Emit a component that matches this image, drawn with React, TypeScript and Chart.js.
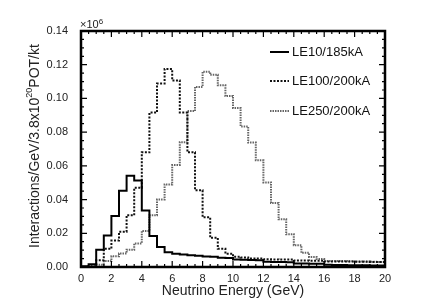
import React, { useEffect, useRef } from "react";
import { Chart, registerables } from "chart.js";
Chart.register(...registerables);

// Bin edges of the energy histogram (GeV)
const binEdges = [
  0, 0.5, 1, 1.5, 2, 2.5, 3, 3.5, 4, 4.5, 5, 5.5, 6, 6.5, 7, 7.5, 8, 8.5, 9, 9.5,
  10, 10.5, 11, 11.5, 12, 12.5, 13, 13.5, 14, 14.5, 15, 15.5, 16, 16.5, 17, 17.5,
  18, 18.5, 19, 19.5, 20,
];

// Interactions per bin (x10^6)
const le10 = [
  0.0004, 0.0016, 0.0102, 0.0187, 0.0303, 0.0452, 0.0542, 0.0513, 0.0335, 0.0184,
  0.0119, 0.0088, 0.0078, 0.0074, 0.0069, 0.0067, 0.0063, 0.0061, 0.0055, 0.0053,
  0.0044, 0.0043, 0.0041, 0.004, 0.0031, 0.003, 0.0029, 0.0028, 0.0021, 0.0021,
  0.002, 0.002, 0.0013, 0.0012, 0.0012, 0.0011, 0.001, 0.001, 0.0009, 0.0009,
];
const le100 = [
  0.0, 0.0005, 0.004, 0.0108, 0.0157, 0.0209, 0.0307, 0.047, 0.068, 0.0916,
  0.1088, 0.1175, 0.1107, 0.0916, 0.068, 0.0455, 0.0295, 0.0173, 0.0109, 0.0079,
  0.0061, 0.0057, 0.0051, 0.005, 0.0046, 0.0045, 0.0044, 0.0044, 0.0039, 0.0038,
  0.0037, 0.0037, 0.0033, 0.0033, 0.0032, 0.0032, 0.0031, 0.0031, 0.003, 0.003,
];
const le250 = [
  0.0, 0.0003, 0.0014, 0.0035, 0.0064, 0.008, 0.0102, 0.014, 0.0214, 0.0307,
  0.04, 0.049, 0.0605, 0.074, 0.0925, 0.1068, 0.1158, 0.114, 0.1078, 0.1014,
  0.0943, 0.0834, 0.0738, 0.0633, 0.0502, 0.038, 0.0283, 0.0194, 0.0129, 0.0084,
  0.006, 0.0047, 0.0036, 0.0036, 0.0035, 0.0034, 0.0033, 0.0032, 0.0031, 0.003,
];

const seriesLabels = ["LE10/185kA", "LE100/200kA", "LE250/200kA"];
const xTicks = [0, 2, 4, 6, 8, 10, 12, 14, 16, 18, 20];
const yTicks = [0, 0.02, 0.04, 0.06, 0.08, 0.1, 0.12, 0.14];

const FONT = "'Liberation Sans', Arial, Helvetica, sans-serif";

function toSteps(values: number[]) {
  return binEdges.map((x, i) => ({ x, y: values[Math.min(i, values.length - 1)] }));
}

const framePlugin = {
  id: "framePlugin",
  afterDraw(chart: any) {
    const { ctx, chartArea } = chart;
    const { left, right, top, bottom } = chartArea;
    const xs = chart.scales.x;
    const ys = chart.scales.y;
    ctx.save();
    // ticks on all sides, pointing inward
    ctx.strokeStyle = "#000";
    ctx.lineWidth = 1.2;
    ctx.beginPath();
    for (let i = 0; i <= 40; i++) {
      const v = i * 0.5;
      const px = xs.getPixelForValue(v);
      const len = i % 4 === 0 ? 6 : 3;
      ctx.moveTo(px, bottom);
      ctx.lineTo(px, bottom - len);
      ctx.moveTo(px, top);
      ctx.lineTo(px, top + len);
    }
    for (let i = 0; i <= 28; i++) {
      const v = i * 0.005;
      const py = ys.getPixelForValue(v);
      const len = i % 4 === 0 ? 6 : 3;
      ctx.moveTo(left, py);
      ctx.lineTo(left + len, py);
      ctx.moveTo(right, py);
      ctx.lineTo(right - len, py);
    }
    ctx.stroke();
    // frame
    ctx.lineWidth = 2.5;
    ctx.strokeRect(left, top, right - left, bottom - top);

    // x10^6 label
    ctx.fillStyle = "#222";
    ctx.textBaseline = "alphabetic";
    ctx.textAlign = "left";
    ctx.font = `11px ${FONT}`;
    ctx.fillText("×10", left - 1, top - 3);
    const w10 = ctx.measureText("×10").width;
    ctx.font = `8px ${FONT}`;
    ctx.fillText("6", left - 1 + w10, top - 7);

    // x title
    ctx.font = `14px ${FONT}`;
    ctx.textAlign = "center";
    ctx.textBaseline = "middle";
    ctx.fillText("Neutrino Energy (GeV)", (left + right) / 2, 291);

    // y title with superscript
    ctx.translate(35, (top + bottom) / 2 - 3);
    ctx.rotate(-Math.PI / 2);
    ctx.textAlign = "left";
    ctx.textBaseline = "middle";
    const p1 = "Interactions/GeV/3.8x10";
    const p2 = "20";
    const p3 = "POT/kt";
    ctx.font = `14px ${FONT}`;
    const w1 = ctx.measureText(p1).width;
    const w3 = ctx.measureText(p3).width;
    ctx.font = `9px ${FONT}`;
    const w2 = ctx.measureText(p2).width;
    const total = w1 + w2 + w3;
    let x0 = -total / 2;
    ctx.font = `14px ${FONT}`;
    ctx.fillText(p1, x0, 0);
    ctx.font = `9px ${FONT}`;
    ctx.fillText(p2, x0 + w1, -5);
    ctx.font = `14px ${FONT}`;
    ctx.fillText(p3, x0 + w1 + w2, 0);
    ctx.restore();

    // legend
    ctx.save();
    const rows = [52, 81, 111];
    chart.data.datasets.forEach((ds: any, i: number) => {
      const y = rows[i];
      ctx.strokeStyle = ds.borderColor;
      ctx.lineWidth = ds.borderWidth;
      ctx.setLineDash(ds.borderDash || []);
      ctx.beginPath();
      ctx.moveTo(270, y);
      ctx.lineTo(289, y);
      ctx.stroke();
      ctx.setLineDash([]);
      ctx.fillStyle = "#111";
      ctx.font = `13px ${FONT}`;
      ctx.textAlign = "left";
      ctx.textBaseline = "middle";
      ctx.fillText(ds.label, 292, y);
    });
    ctx.restore();
  },
};

export default function App() {
  const ref = useRef<HTMLCanvasElement | null>(null);
  useEffect(() => {
    if (!ref.current) return;
    const chart = new Chart(ref.current, {
      type: "line",
      data: {
        datasets: [
          {
            label: seriesLabels[0],
            data: toSteps(le10),
            borderColor: "#000",
            borderWidth: 2,
            stepped: "before",
            pointRadius: 0,
            fill: false,
          },
          {
            label: seriesLabels[1],
            data: toSteps(le100),
            borderColor: "#111",
            borderWidth: 2,
            borderDash: [2, 1.5],
            stepped: "before",
            pointRadius: 0,
            fill: false,
          },
          {
            label: seriesLabels[2],
            data: toSteps(le250),
            borderColor: "#666",
            borderWidth: 2,
            borderDash: [1.5, 1],
            stepped: "before",
            pointRadius: 0,
            fill: false,
          },
        ] as any,
      },
      options: {
        responsive: false,
        animation: false,
        events: [],
        layout: { padding: { left: 0, top: 31, right: 51, bottom: 0 } },
        plugins: { legend: { display: false }, tooltip: { enabled: false } },
        scales: {
          x: {
            type: "linear",
            min: 0,
            max: 20,
            grid: { display: false, drawTicks: false },
            border: { display: false },
            afterBuildTicks: (s: any) => {
              s.ticks = xTicks.map((v) => ({ value: v }));
            },
            afterFit: (s: any) => {
              s.height = 34;
            },
            ticks: {
              font: { family: FONT, size: 11 },
              color: "#222",
              padding: 5,
              maxRotation: 0,
              autoSkip: false,
              callback: (v: any) => String(v),
            },
          },
          y: {
            type: "linear",
            min: 0,
            max: 0.14,
            grid: { display: false, drawTicks: false },
            border: { display: false },
            afterBuildTicks: (s: any) => {
              s.ticks = yTicks.map((v) => ({ value: v }));
            },
            afterFit: (s: any) => {
              s.width = 81;
            },
            ticks: {
              font: { family: FONT, size: 11 },
              color: "#222",
              padding: 13,
              autoSkip: false,
              callback: (v: any) => Number(v).toFixed(2),
            },
          },
        },
      } as any,
      plugins: [framePlugin],
    });
    return () => chart.destroy();
  }, []);
  return (
    <div style={{ position: "absolute", left: 0, top: 0, width: 436, height: 301, background: "#fff" }}>
      <canvas ref={ref} width={436} height={301} style={{ display: "block" }} />
    </div>
  );
}
